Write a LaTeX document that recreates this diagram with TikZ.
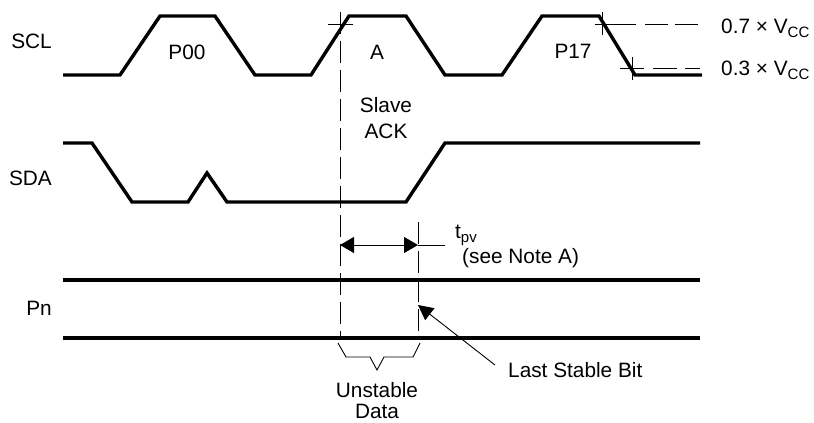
\documentclass[tikz,border=0pt]{standalone}
\usepackage{fontspec}
\setmainfont{Liberation Sans}
\usetikzlibrary{arrows.meta}
\newcommand{\subsz}[1]{\raisebox{-4pt}{\fontsize{15}{15}\selectfont #1}}
\begin{document}
\begin{tikzpicture}[x=1pt,y=-1pt,
  sig/.style={line width=3.4pt},
  lbl/.style={font=\fontsize{20.8}{24}\selectfont, inner sep=0pt},
  thinln/.style={line width=0.9pt},
  vdash/.style={thinln, dash pattern=on 22pt off 7pt},
  dimarrow/.style={thinln, {Triangle[length=14pt,width=16pt]}-{Triangle[length=14pt,width=16pt]}},
  ptrarrow/.style={thinln, -{Triangle[length=15pt,width=15pt]}}
]
\useasboundingbox (0,0) rectangle (814,423);
% waveforms
\draw[sig] (63,75) -- (120,75) -- (160,16) -- (215,16) -- (255,75) -- (311,75) -- (349,16) -- (406,16) -- (445,75) -- (502,75) -- (542,16) -- (599,16) -- (635,75) -- (702,75);
\draw[sig] (63,143) -- (92,143) -- (132,202) -- (188,202) -- (207,173) -- (227,202) -- (406,202) -- (445,143) -- (700,143);
\draw[sig] (63,280) -- (700,280);
\draw[sig] (63,338) -- (700,338);
% vertical reference lines
\coordinate (vA1) at (340,12); \coordinate (vA2) at (340,338);
\coordinate (vB1) at (418,222); \coordinate (vB2) at (418,338);
\draw[vdash] (vA1) -- (vA2);
\draw[vdash] (vB1) -- (vB2);
% crosshairs
\draw[thinln] (328,24) -- (353,24);
\draw[thinln] (602,12) -- (602,35);
\draw[thinln, dash pattern=on 41pt off 9pt on 23pt off 7pt on 23pt off 10pt] (595,24) -- (698,24);
\draw[thinln] (632,57) -- (632,80);
\draw[thinln, dash pattern=on 24pt off 9pt on 24pt off 8pt] (620,68) -- (700,68);
% labels
\node[lbl, anchor=base east] (scl) at (52,48) {SCL};
\node[lbl, anchor=base east] (sda) at (52,185) {SDA};
\node[lbl, anchor=base east] (pn) at (52,315) {Pn};
\node[lbl, anchor=base] (p00) at (187,59) {P00};
\node[lbl, anchor=base] (a) at (377,59) {A};
\node[lbl, anchor=base] (p17) at (573,58) {P17};
\node[lbl, anchor=base] (slave) at (386,112) {Slave};
\node[lbl, anchor=base] (ack) at (386,138) {ACK};
\node[lbl, anchor=base west] (v7) at (721,33) {0.7 × V\subsz{CC}};
\node[lbl, anchor=base west] (v3) at (721,75) {0.3 × V\subsz{CC}};
\node[lbl, anchor=base west] (tpv) at (455,238) {t\subsz{pv}};
\node[lbl, anchor=base west] (note) at (462,263) {(see Note A)};
\node[lbl, anchor=base west] (lsb) at (508,377) {Last Stable Bit};
\node[lbl, anchor=base] (unst) at (377,397) {Unstable};
\node[lbl, anchor=base] (data) at (377,418) {Data};
% tpv arrow
\coordinate (pvL) at (340,245); \coordinate (pvR) at (418,245); \coordinate (pvE) at (445,245);
\draw[dimarrow] (pvL) -- (pvR);
\draw[thinln] (pvR) -- (pvE);
% last stable bit arrow
\coordinate (lsbS) at (495,365); \coordinate (lsbT) at (418,305);
\draw[ptrarrow] (lsbS) -- (lsbT);
% brace
\draw[thinln] (338,343) -- (346,357) -- (370,357) -- (377,370) -- (384,357) -- (413,357) -- (420,343);
\end{tikzpicture}
\end{document}
